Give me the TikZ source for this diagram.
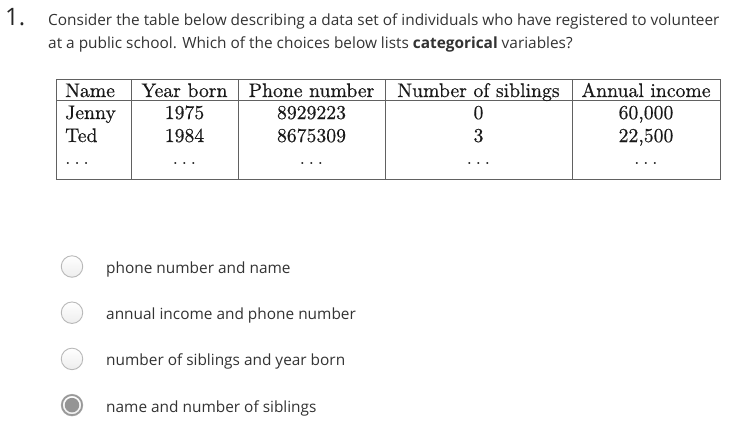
\documentclass[tikz,border=0pt]{standalone}
\usepackage{fontspec}
\usepackage{tikz}
\newfontfamily\opensans{Open Sans}
\newfontfamily\tabfont{lmroman10-regular.otf}[FakeBold=0.5]
\definecolor{txtgray}{HTML}{333333}

\tikzset{
    qtext/.style={anchor=base west, inner sep=0, text=txtgray, font=\opensans\fontsize{15.4}{18}\selectfont},
    cell/.style={anchor=base, inner sep=0, text=black!90, font=\tabfont\fontsize{19.7}{24}\selectfont},
    gridline/.style={draw=black!62, line width=0.9pt},
    radio/.style={circle, minimum size=21.5pt, inner sep=0, draw=black!28, line width=0.9pt, top color=white, bottom color=black!7},
}

\begin{document}
\begin{tikzpicture}[x=1pt,y=-1pt]
        \useasboundingbox[fill=white] (0,0) rectangle (733,424);
        % 题目
        \node[qtext, text=black!85, font=\opensans\fontsize{24}{28}\selectfont] (num) at (5,25) {1.};
        \node[qtext] (q1) at (48,25) {Consider the table below describing a data set of individuals who have registered to volunteer};
        \node[qtext] (q2) at (48,48) {at a public school. Which of the choices below lists \textbf{categorical} variables?};
        % 表格线
        \draw[gridline] (56,79) rectangle (720,179);
        \draw[gridline] (56,100) -- (720,100);
        \foreach \x in {131,238,385,572}{
            \draw[gridline] (\x,79) -- (\x,179);
        }
        % 第一列左对齐
        \node[cell, anchor=base west] (c0-0) at (65,97) {Name};
        \node[cell, anchor=base west] (c0-1) at (65,119) {Jenny};
        \node[cell, anchor=base west] (c0-2) at (65,142) {Ted};
        \node[cell, anchor=base west] (c0-3) at (65,164) {$\ldots$};
        % 其余各列居中
        \foreach \cx/\ha/\ra/\rb [count=\k] in {184.5/Year born/1975/1984, 311.5/Phone number/8929223/8675309, 478.5/Number of siblings/0/3, 646/Annual income/{60,000}/{22,500}}{
            \node[cell] (c\k-0) at (\cx,97) {\ha};
            \node[cell] (c\k-1) at (\cx,119) {\ra};
            \node[cell] (c\k-2) at (\cx,142) {\rb};
            \node[cell] (c\k-3) at (\cx,164) {$\ldots$};
        }
        % 选项
        \foreach \txt [count=\k] in {phone number and name, annual income and phone number, number of siblings and year born, name and number of siblings}{
            \pgfmathsetmacro\yy{266.5+46.2*(\k-1)}
            \node[radio] (r\k) at (72,\yy) {};
            \node[qtext] (o\k) at (106,\yy+7) {\txt};
        }
        \draw[black!40, line width=1.6pt] (r4.center) circle (10);
        \node[circle, fill=black!42, minimum size=14.5pt, inner sep=0] (dot) at (r4.center) {};
\end{tikzpicture}
\end{document}
